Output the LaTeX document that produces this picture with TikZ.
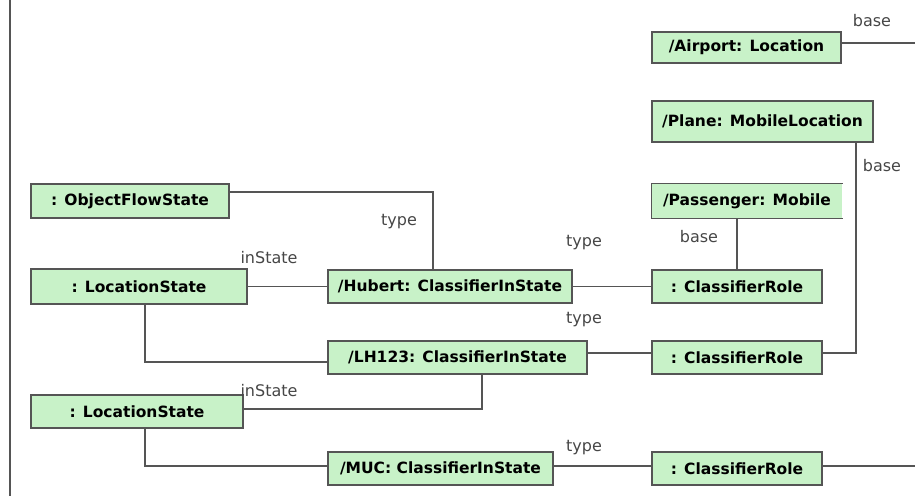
\documentclass[tikz,border=0pt]{standalone}
\usepackage{fontspec}
\setmainfont{DejaVu Sans}
\begin{document}
\begin{tikzpicture}[x=1pt,y=-1pt,
  boxfill/.style={fill=boxgreen},
  umlbox/.style={boxfill,draw=edgegray,line width=1.1pt,rectangle,inner sep=0pt,
     font=\fontsize{15.5}{17}\selectfont\bfseries,text=black},
  conn/.style={draw=edgegray,line width=1.1pt},
  lbl/.style={font=\fontsize{16}{18}\selectfont,text=labelgray,inner sep=0pt}]
\definecolor{boxgreen}{RGB}{200,242,200}
\definecolor{edgegray}{RGB}{85,85,85}
\definecolor{labelgray}{RGB}{70,70,70}
\useasboundingbox (0,0) rectangle (915,498);
\coordinate (lt) at (10,0);
\coordinate (lb) at (10,496);
\draw[conn] (lt) -- (lb);

\node[umlbox,minimum width=198pt,minimum height=34pt] (ofs) at (130,201) {: ObjectFlowState};
\node[umlbox,minimum width=216pt,minimum height=35pt] (ls1) at (139,286.5) {: LocationState};
\node[umlbox,minimum width=244pt,minimum height=33pt] (hub) at (450,286.5) {/Hubert: ClassifierInState};
\node[umlbox,minimum width=170pt,minimum height=33pt] (cr1) at (737,286.5) {: ClassifierRole};
\node[umlbox,draw=none,minimum width=190pt,minimum height=34pt] (pas) at (747,201) {/Passenger: Mobile};
\draw[conn] (pas.north east) -- (pas.north west) -- (pas.south west) -- (pas.south east);
\node[umlbox,minimum width=221pt,minimum height=41pt] (pla) at (762.5,121.5) {/Plane: MobileLocation};
\node[umlbox,minimum width=189pt,minimum height=31pt] (air) at (746.5,47.5) {/Airport: Location};
\node[umlbox,minimum width=259pt,minimum height=33pt] (lh) at (457.5,357.5) {/LH123: ClassifierInState};
\node[umlbox,minimum width=170pt,minimum height=33pt] (cr2) at (737,357.5) {: ClassifierRole};
\node[umlbox,minimum width=212pt,minimum height=33pt] (ls2) at (137,411.5) {: LocationState};
\node[umlbox,minimum width=225pt,minimum height=33pt] (muc) at (440.5,468.5) {/MUC: ClassifierInState};
\node[umlbox,minimum width=170pt,minimum height=33pt] (cr3) at (737,468.5) {: ClassifierRole};

\coordinate (airend) at (915,43);
\coordinate (cr3end) at (915,466);

\draw[conn] ([yshift=9pt]ofs.east) -| ([xshift=-17pt]hub.north);
\draw[conn] (ls1.east) -- (hub.west);
\draw[conn] (hub.east) -- (cr1.west);
\draw[conn] ([xshift=-10pt]pas.south) -- (cr1.north);
\draw[conn] ([xshift=6pt]ls1.south) |- ([yshift=-4.5pt]lh.west);
\draw[conn] ([yshift=4.5pt]lh.east) -- ([yshift=4.5pt]cr2.west);
\draw[conn] ([yshift=4.5pt]cr2.east) -| ([xshift=93.5pt]pla.south);
\draw[conn] ([xshift=24.5pt]lh.south) |- ([yshift=2.5pt]ls2.east);
\draw[conn] ([xshift=8pt]ls2.south) |- ([yshift=2.5pt]muc.west);
\draw[conn] ([yshift=2.5pt]muc.east) -- ([yshift=2.5pt]cr3.west);
\draw[conn] ([yshift=2.5pt]cr3.east) -- (cr3end);
\draw[conn] ([yshift=4.5pt]air.east) -- (airend);

\node[lbl] (l1) at (872,21) {base};
\node[lbl] (l2) at (882,166) {base};
\node[lbl] (l3) at (399,222) {type};
\node[lbl] (l4) at (269,258) {inState};
\node[lbl] (l5) at (584,243) {type};
\node[lbl] (l6) at (699,237) {base};
\node[lbl] (l7) at (584,320) {type};
\node[lbl] (l8) at (269,391) {inState};
\node[lbl] (l9) at (584,448) {type};
\end{tikzpicture}
\end{document}
